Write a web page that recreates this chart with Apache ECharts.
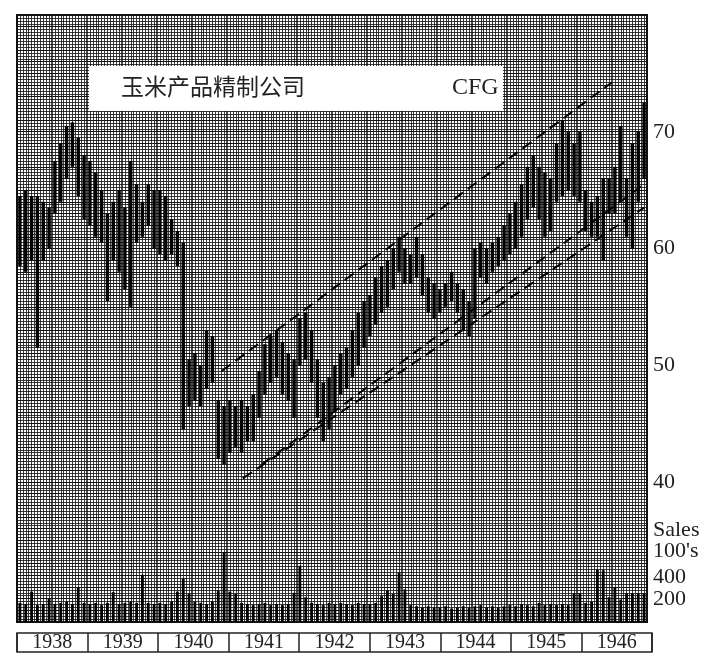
<!DOCTYPE html>
<html>
<head>
<meta charset="utf-8">
<script src="https://cdn.jsdelivr.net/npm/echarts@6/dist/echarts.min.js"></script>
<style>
  html, body { margin: 0; padding: 0; background: #fff; }
  #main { width: 716px; height: 671px; }
</style>
</head>
<body>
<div id="main"></div>
<script>
// 年份
const years = ['1938', '1939', '1940', '1941', '1942', '1943', '1944', '1945', '1946'];

// 每月最高价 / 最低价 (1938.1 - 1946.12)
const priceHigh = [
  64.5, 65, 64.5, 64.5, 64, 63.5, 67.5, 69, 70.5, 70.8, 69.5, 68,
  67.5, 66.5, 65, 63, 64, 65, 63.5, 67.5, 65.5, 64, 65.5, 65,
  65, 64.5, 62.5, 61.5, 60.5, 50.5, 51, 50, 53, 52.5, 47, 46.5,
  47, 46.5, 47, 46.5, 47.5, 49.5, 51.8, 52.5, 53, 52, 51, 50.5,
  54, 54.5, 53, 50.5, 48.5, 49, 50, 51, 51.5, 53, 54.5, 55.5,
  56, 57.5, 58.5, 59, 60, 61, 60, 59.5, 61, 59.5, 57.5, 57,
  56.5, 57, 58, 57, 56.5, 55.5, 60, 60.5, 60, 60.5, 61, 62,
  63, 64, 65.5, 67, 68, 67, 66.5, 66, 69, 71, 70, 69,
  70, 65, 64, 64.5, 66, 66, 67, 70.5, 66, 69, 70, 72.5
];
const priceLow = [
  58.5, 58, 59, 51.5, 59, 60, 63, 64, 66, 67, 64.5, 62.5,
  62, 61, 60.5, 55.5, 59, 58, 56.5, 55, 60.5, 61, 62, 60,
  59.5, 59, 59.5, 58.5, 44.5, 46.5, 47, 46.5, 48, 48.5, 42, 41.5,
  42.5, 43, 42.5, 43.5, 43.5, 45.5, 47.5, 48.5, 49, 47.5, 47, 45.5,
  50, 50.5, 48.5, 45.5, 43.5, 44.5, 46, 47.5, 48, 49, 50, 51.5,
  52.5, 53.5, 54.5, 55, 56.5, 58, 57, 57, 57.5, 56, 54.5, 54,
  54.5, 55, 55.5, 54.5, 53, 52.5, 54, 57.5, 57, 58, 58.5, 59,
  59.5, 60, 61, 62.5, 63.5, 62.5, 61, 61.5, 64, 64.5, 65, 64.5,
  64, 61.5, 61, 61, 59, 63, 63, 64, 61, 60, 64, 66
];

// 成交量 (百股)
const volume = [
  170, 160, 270, 150, 160, 210, 160, 170, 180, 160, 310, 170,
  160, 170, 150, 170, 265, 160, 170, 180, 170, 420, 170, 160,
  170, 160, 180, 270, 390, 250, 180, 170, 160, 180, 280, 620,
  270, 250, 170, 160, 150, 160, 170, 150, 160, 150, 160, 260,
  500, 220, 170, 160, 150, 170, 160, 170, 160, 150, 170, 160,
  160, 170, 230, 280, 250, 440, 290, 150, 140, 130, 140, 130,
  130, 140, 120, 130, 140, 130, 140, 150, 130, 140, 130, 140,
  150, 140, 160, 150, 140, 170, 150, 160, 150, 160, 150, 255,
  255, 170, 180, 465, 460, 220, 310, 200, 255, 255, 255, 255
];

// 刻度
const priceTicks = [40, 50, 60, 70];
const volumeTicks = [200, 400];

// 趋势线 [月份, 价格]
const trendUpper = [[35.1, 49.5], [101.9, 74.2]];
const trendMid = [[42.0, 41.5], [107.5, 65.5]];
const trendLow = [[38.7, 40.3], [107.5, 63.5]];

const serif = 'Liberation Serif';

const bars = priceHigh.map((h, i) => [i + 0.5, priceLow[i], h]);
const vols = volume.map((v, i) => [i + 0.5, v]);

let myChart = echarts.init(document.getElementById('main'));

function dashed(data) {
  return {
    type: 'line',
    xAxisIndex: 0,
    yAxisIndex: 0,
    data: data,
    symbol: 'none',
    silent: true,
    z: 4,
    lineStyle: { color: '#000', width: 2, type: [11, 6] }
  };
}

myChart.setOption({
  backgroundColor: '#fff',
  animation: false,
  grid: [
    { left: 17, top: 15, width: 630, height: 607, show: true,
      backgroundColor: '#fff', borderColor: '#111', borderWidth: 2 },
    { left: 17, top: 633, width: 635, height: 19, show: true,
      borderColor: '#222', borderWidth: 1.5 }
  ],
  xAxis: [
    {
      type: 'value', gridIndex: 0, min: 0, max: 108, interval: 6,
      axisLine: { show: false }, axisTick: { show: false }, axisLabel: { show: false },
      splitLine: { show: true, lineStyle: { color: '#111', width: 1.5 } },
      minorTick: { show: false, splitNumber: 12 },
      minorSplitLine: { show: true, lineStyle: { color: '#1a1a1a', width: 0.85 } }
    },
    {
      type: 'category', gridIndex: 1, data: years,
      axisLine: { show: false }, axisTick: { show: false },
      axisLabel: { inside: true, margin: 9, verticalAlign: 'middle',
        fontFamily: serif, fontSize: 20, color: '#222' },
      splitLine: { show: true, interval: 0, lineStyle: { color: '#222', width: 1.5 } }
    }
  ],
  yAxis: [
    {
      type: 'value', gridIndex: 0, position: 'right', min: 28, max: 80, interval: 1,
      axisLine: { show: false }, axisTick: { show: false },
      axisLabel: {
        margin: 6, fontFamily: serif, fontSize: 22, color: '#222',
        formatter: v => priceTicks.indexOf(v) >= 0 ? String(v) : ''
      },
      splitLine: { show: true, lineStyle: { color: '#111', width: 1 } },
      minorTick: { show: false, splitNumber: 4 },
      minorSplitLine: { show: true, lineStyle: { color: '#1a1a1a', width: 0.85 } }
    },
    {
      type: 'value', gridIndex: 0, position: 'right', min: 0, max: 5400, interval: 200,
      axisLine: { show: false }, axisTick: { show: false }, splitLine: { show: false },
      axisLabel: {
        margin: 6, fontFamily: serif, fontSize: 22, color: '#222',
        formatter: v => volumeTicks.indexOf(v) >= 0 ? String(v) : ''
      }
    },
    {
      type: 'value', gridIndex: 1, show: false
    }
  ],
  series: [
    {
      type: 'custom',
      xAxisIndex: 0,
      yAxisIndex: 0,
      data: bars,
      z: 5,
      renderItem: function (params, api) {
        const lo = api.coord([api.value(0), api.value(1)]);
        const hi = api.coord([api.value(0), api.value(2)]);
        return {
          type: 'line',
          shape: { x1: lo[0], y1: lo[1], x2: hi[0], y2: hi[1] },
          style: { stroke: '#000', lineWidth: 3.4 }
        };
      }
    },
    {
      type: 'bar',
      xAxisIndex: 0,
      yAxisIndex: 1,
      data: vols,
      barWidth: 2.8,
      z: 5,
      itemStyle: { color: '#000' }
    },
    dashed(trendUpper),
    dashed(trendMid),
    dashed(trendLow)
  ],
  graphic: [
    { type: 'rect', left: 89, top: 66, z: 100,
      shape: { width: 414, height: 45 }, style: { fill: '#fff' } },
    { type: 'text', left: 121, top: 75, z: 101,
      style: { text: '玉米产品精制公司', fill: '#222',
        font: '23px "Noto Sans CJK SC"' } },
    { type: 'text', left: 452, top: 76, z: 101,
      style: { text: 'CFG', fill: '#222', font: '24px "Liberation Serif"' } },
    { type: 'text', left: 653, top: 519, z: 101,
      style: { text: 'Sales', fill: '#222', font: '22px "Liberation Serif"' } },
    { type: 'text', left: 653, top: 540, z: 101,
      style: { text: "100's", fill: '#222', font: '22px "Liberation Serif"' } }
  ]
});
</script>
</body>
</html>
